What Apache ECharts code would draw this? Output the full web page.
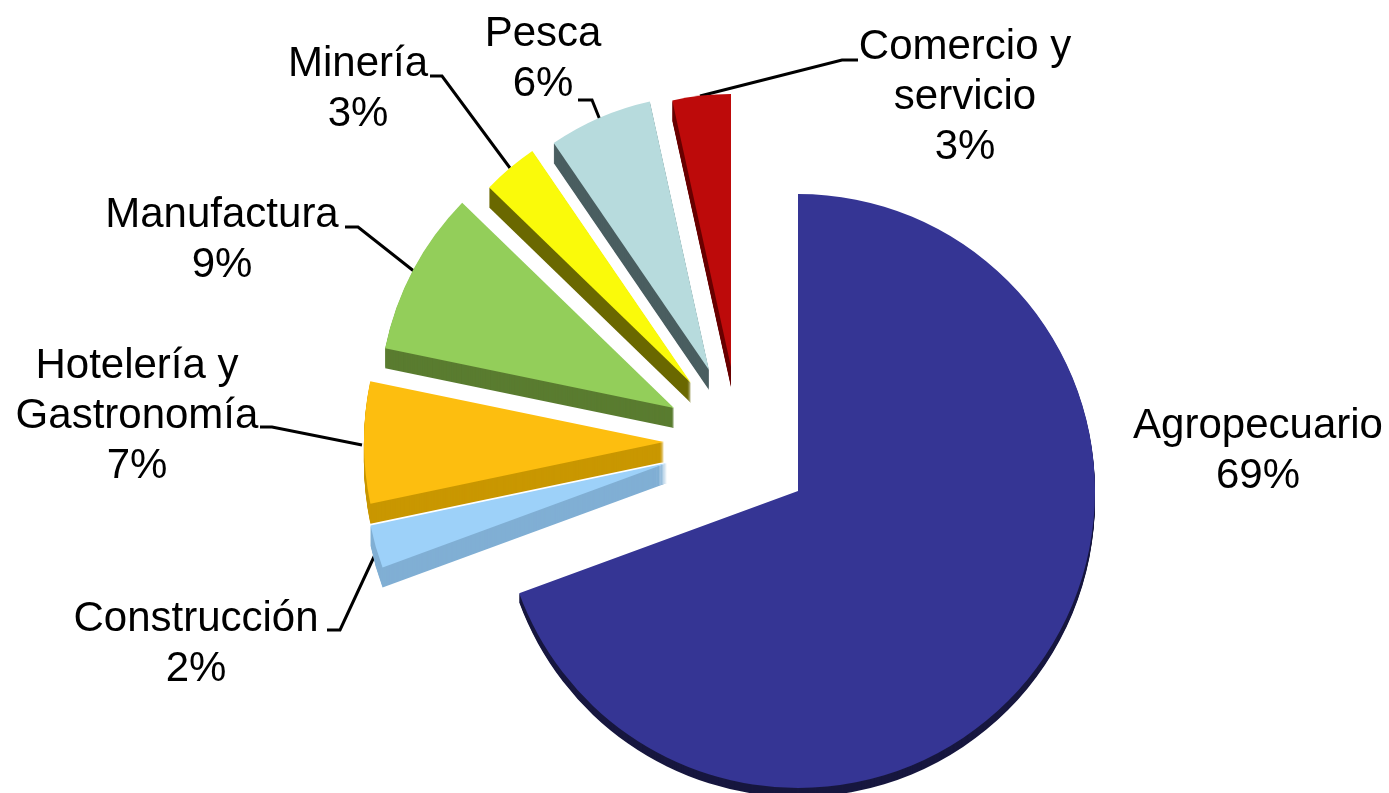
<!DOCTYPE html>
<html>
<head>
<meta charset="utf-8">
<style>html,body{margin:0;padding:0;background:#fff}#c{width:1389px;height:793px}</style>
<script src="https://cdn.jsdelivr.net/npm/echarts@6/dist/echarts.min.js"></script>
</head>
<body>
<div id="c"></div>
<script>
// Data, clockwise from 12 o'clock
const categories = ['Agropecuario','Construcción','Hotelería y\nGastronomía','Manufactura','Minería','Pesca','Comercio y\nservicio'];
const shares = [69.4, 2.3, 6.55, 9.0, 3.2, 6.1, 3.45];
const topColors = ['#353594','#9DD1F9','#FDBE0F','#93CE5A','#FAFA0A','#B7DBDD','#BD0A0A'];
const sideColors = ['#17173F','#80AFD4','#C99700','#5A7C30','#6A6800','#4A5E60','#6A0000'];

// Exploded layout of each slice
const centers = [[798,491],[667,463],[664,442],[674,408],[691,383],[709,370],[731,367]];
const radii = [297,303,300,295,281,275,273];
const depths = [9,20,20,20,20,20,20];
// Label block centres and leader-line elbows / ends
const labelCentres = [[1258,451],[196,644],[137,416],[222,240],[358,89],[543,59],[965,97]];
const leaderPaths = [null,[[340,630],[327,630]],[[272,427],[260,427]],[[358,227],[345,227]],[[442,76],[430,76]],[[592,100],[578,100]],[[842,60],[858,60]]];
const leaderEnds = [null,[379,546],[362,445],[415,272],[510,168],[600,120],[700,96]];

function layer(i, color, dy, withLabel){
  return {
    type:'pie', silent:true, animation:false, clockwise:true, startAngle:90, avoidLabelOverlap:false,
    center:[centers[i][0], centers[i][1]+dy], radius:[0,radii[i]],
    label:{show:false}, labelLine:{show:false},
    labelLayout: withLabel ? function(){
      const o = {x:labelCentres[i][0], y:labelCentres[i][1], align:'center', verticalAlign:'middle'};
      if (leaderPaths[i]) o.labelLinePoints = [leaderEnds[i]].concat(leaderPaths[i]);
      return o;
    } : undefined,
    data: categories.map((name,j)=>{
      const on = j===i;
      const d = {name, value:shares[j], itemStyle:{color: on?color:'rgba(0,0,0,0)', borderWidth:0}};
      if (on && withLabel){
        d.label = {show:true, position:'outside', color:'#000', fontFamily:'"Liberation Sans",Arial,sans-serif', fontSize:42, lineHeight:50,
          formatter:p=>p.name+'\n'+Math.round(p.value)+'%'};
        d.labelLine = {show:!!leaderPaths[i], length:10, length2:10, smooth:false, lineStyle:{color:'#000',width:3}};
      }
      return d;
    })
  };
}

const series = [];
// far slices are painted first so nearer ones overlap them; Agropecuario last
[6,5,4,3,2,1,0].forEach(i=>{
  for(let k=depths[i];k>=1;k--) series.push(layer(i, sideColors[i], k, false));
  series.push(layer(i, topColors[i], 0, true));
});

const chart = echarts.init(document.getElementById('c'), null, {renderer:'canvas'});
chart.setOption({backgroundColor:'#fff', animation:false, series});
</script>
</body>
</html>
